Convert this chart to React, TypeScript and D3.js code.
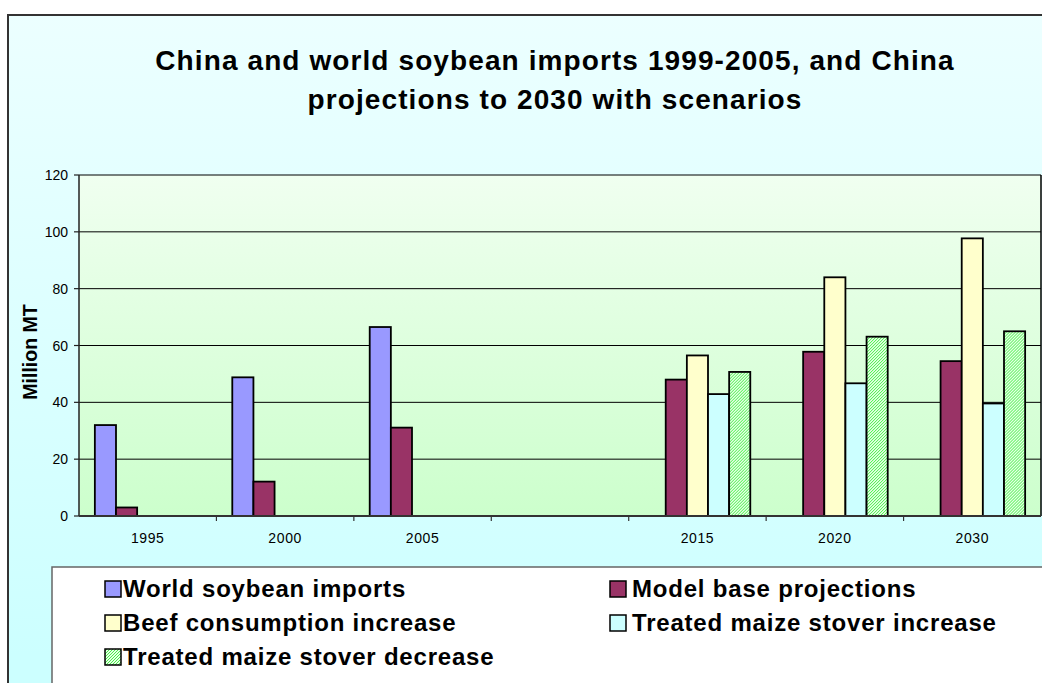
import React from 'react';
import * as d3 from 'd3';

// categories (blank slot between 2005 and 2015)
const categories = ['1995', '2000', '2005', ' ', '2015', '2020', '2030'];
const seriesKeys = ['world', 'model', 'beef', 'stoverInc', 'stoverDec'];
const seriesNames = [
  'World soybean imports',
  'Model base projections',
  'Beef consumption increase',
  'Treated maize stover increase',
  'Treated maize stover decrease',
];

const worldImports = [32, 48.8, 66.5, null, null, null, null];
const modelBase = [3, 12.1, 31.1, null, 48, 57.8, 54.5];
const beefIncrease = [null, null, null, null, 56.5, 84, 97.7];
const stoverIncrease = [null, null, null, null, 42.9, 46.7, 39.6];
const stoverDecrease = [null, null, null, null, 50.7, 63.1, 65];

const yTicks = [0, 20, 40, 60, 80, 100, 120];

const seriesValues: (number | null)[][] = [worldImports, modelBase, beefIncrease, stoverIncrease, stoverDecrease];
const fills = ['#9999ff', '#993366', '#ffffcc', '#ccffff', 'url(#greenHatch)'];

const FONT = '"Liberation Sans", Arial, sans-serif';

export default function App() {
  const W = 1042;
  const H = 683;
  const plot = { left: 79, right: 1041, top: 175, bottom: 516 };

  const x0 = d3.scaleBand<string>().domain(categories).range([plot.left, plot.right]).paddingInner(0).paddingOuter(0);
  const bw = x0.bandwidth() / 6.5;
  const x1 = d3.scaleBand<string>().domain(seriesKeys).range([0.75 * bw, x0.bandwidth() - 0.75 * bw]).padding(0);
  const y = d3.scaleLinear().domain([0, 120]).range([plot.bottom, plot.top]);

  const legendItems = seriesNames.map((name, i) => ({
    name,
    fill: fills[i],
    col: i % 2,
    row: Math.floor(i / 2),
  }));

  return (
    <svg width={W} height={H} style={{ position: 'absolute', left: 0, top: 0, display: 'block' }} fontFamily={FONT}>
      <defs>
        <linearGradient id="outerBg" x1="0" y1="0" x2="0" y2="1">
          <stop offset="0%" stopColor="#ecffff" />
          <stop offset="80%" stopColor="#ccffff" />
        </linearGradient>
        <linearGradient id="plotBg" x1="0" y1="0" x2="0" y2="1">
          <stop offset="0%" stopColor="#f0fff0" />
          <stop offset="100%" stopColor="#ccffcc" />
        </linearGradient>
        <pattern id="greenHatch" patternUnits="userSpaceOnUse" width="3" height="3">
          <rect width="3" height="3" fill="#e4ffe4" />
          <path d="M-1,1 L1,-1 M0,3 L3,0 M2,4 L4,2" stroke="#44ee44" strokeWidth="1" />
        </pattern>
      </defs>

      <rect x={0} y={0} width={W} height={H} fill="#ffffff" />
      {/* chart area */}
      <rect x={8} y={15} width={1200} height={800} fill="url(#outerBg)" stroke="#333" strokeWidth={2} />

      {/* title */}
      <text x={555} y={70} textAnchor="middle" fontSize={28} fontWeight="bold" letterSpacing={1.1} fill="#000">
        China and world soybean imports 1999-2005, and China
      </text>
      <text x={555} y={109} textAnchor="middle" fontSize={28} fontWeight="bold" letterSpacing={1.1} fill="#000">
        projections to 2030 with scenarios
      </text>

      {/* plot area */}
      <rect x={plot.left} y={plot.top} width={plot.right - plot.left} height={plot.bottom - plot.top} fill="url(#plotBg)" />
      {yTicks.filter((t) => t > 0).map((t) => (
        <line key={t} x1={plot.left} x2={plot.right} y1={y(t)} y2={y(t)} stroke="#000" strokeWidth={1} />
      ))}
      <line x1={plot.right} x2={plot.right} y1={plot.top} y2={plot.bottom} stroke="#000" strokeWidth={1.5} />

      {/* bars */}
      {categories.map((c, ci) => (
        <g key={c} transform={`translate(${x0(c)},0)`}>
          {seriesKeys.map((k, si) => {
            const v = seriesValues[si][ci];
            if (v == null) return null;
            return (
              <rect
                key={k}
                x={x1(k)}
                y={y(v)}
                width={x1.bandwidth()}
                height={y(0) - y(v)}
                fill={fills[si]}
                stroke="#000"
                strokeWidth={1.8}
              />
            );
          })}
        </g>
      ))}

      {/* y axis */}
      <line x1={plot.left} x2={plot.left} y1={plot.top} y2={plot.bottom} stroke="#222" strokeWidth={1.5} />
      {yTicks.map((t) => (
        <g key={t}>
          <line x1={plot.left - 5} x2={plot.left} y1={y(t)} y2={y(t)} stroke="#222" strokeWidth={1.2} />
          <text x={68} y={y(t) + 5} textAnchor="end" fontSize={14} fill="#000">
            {t}
          </text>
        </g>
      ))}
      <text
        transform={`translate(37,352) rotate(-90)`}
        textAnchor="middle"
        fontSize={19.5}
        fontWeight="bold"
        fill="#000"
      >
        Million MT
      </text>

      {/* x axis */}
      <line x1={plot.left} x2={plot.right} y1={plot.bottom} y2={plot.bottom} stroke="#333" strokeWidth={2} />
      {categories.slice(1).map((c) => (
        <line key={c} x1={x0(c)} x2={x0(c)} y1={plot.bottom} y2={plot.bottom + 5} stroke="#333" strokeWidth={1.2} />
      ))}
      {categories.map((c) => (
        <text key={c} x={(x0(c) as number) + x0.bandwidth() / 2} y={543} textAnchor="middle" fontSize={14} letterSpacing={0.6} fill="#000">
          {c.trim()}
        </text>
      ))}

      {/* legend */}
      <rect x={52} y={567} width={1100} height={300} fill="#ffffff" stroke="#666" strokeWidth={1.5} />
      {legendItems.map((d) => {
        const sx = d.col === 0 ? 105 : 610;
        const tx = d.col === 0 ? 123 : 632;
        const by = 597 + d.row * 34;
        return (
          <g key={d.name}>
            <rect x={sx} y={by - 16} width={16} height={16} fill={d.fill} stroke="#000" strokeWidth={1.5} />
            <text x={tx} y={by} fontSize={24} fontWeight="bold" letterSpacing={0.8} fill="#000">
              {d.name}
            </text>
          </g>
        );
      })}
    </svg>
  );
}
